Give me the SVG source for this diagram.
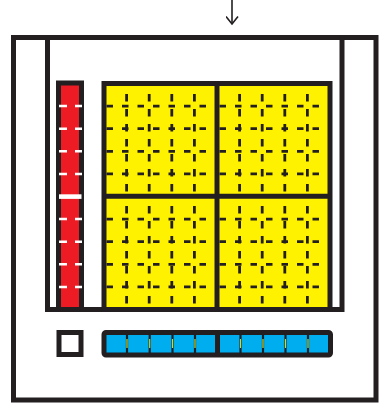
<svg xmlns="http://www.w3.org/2000/svg" width="383" height="403" viewBox="0 0 383 403">
<style>
.frame{fill:none;stroke:#231F20;stroke-width:5}
.red{fill:#ED1C24;stroke:#231F20;stroke-width:5}
.yel{fill:#FFF200;stroke:#231F20;stroke-width:5}
.cyan{fill:#00AEEF;stroke:#231F20;stroke-width:5}
.wbox{fill:#FFFFFF;stroke:#231F20;stroke-width:5}
.wd{stroke:#FFFFFF;stroke-width:2.5;stroke-dasharray:8 8;fill:none}
.hd{stroke:#231F20;stroke-width:2.8;stroke-dasharray:6.5 9;fill:none}
.vd{stroke:#231F20;stroke-width:2.8;stroke-dasharray:7.5 7.5;fill:none}
.sep{stroke:#231F20;stroke-width:2.2}
.hl{stroke:#C8DC32;stroke-width:1.2}
.conn{stroke:#231F20;stroke-width:1.6;fill:none}
</style>
<defs>
<marker id="arr" viewBox="0 0 10 13" refX="8.5" refY="6.5" markerWidth="10" markerHeight="13" markerUnits="userSpaceOnUse" orient="auto">
<path d="M1 0.5 L8.5 6.5 L1 12.5" fill="none" stroke="#231F20" stroke-width="1.6"/>
</marker>
</defs>
<rect width="383" height="403" fill="#FFFFFF"/>
<g id="outer-frame">
<rect class="frame" x="13.5" y="37.5" width="362.5" height="362.5"/>
<path class="frame" d="M47.5 37.5 V309.5 H342 V37.5"/>
</g>
<g id="red-bar">
<rect class="red" x="58.5" y="83" width="23" height="226.5"/>
<path class="wd" d="M59 106 H82 M59 128.7 H82 M59 151.3 H82 M59 173.9 H82 M59 219.1 H82 M59 241.7 H82 M59 264.3 H82 M59 286.9 H82"/>
<path d="M59 196.6 H81.5" stroke="#FFFFFF" stroke-width="4.6"/>
</g>
<g id="yellow-block">
<rect class="yel" x="104" y="83.5" width="226" height="226"/>
<path class="hd" d="M106.5 106.1 H214.5 M106.5 128.7 H214.5 M106.5 151.3 H214.5 M106.5 173.9 H214.5 M219.5 106.1 H327.5 M219.5 128.7 H327.5 M219.5 151.3 H327.5 M219.5 173.9 H327.5 M106.5 219.1 H214.5 M106.5 241.7 H214.5 M106.5 264.3 H214.5 M106.5 286.9 H214.5 M219.5 219.1 H327.5 M219.5 241.7 H327.5 M219.5 264.3 H327.5 M219.5 286.9 H327.5"/>
<path class="vd" d="M126.6 94 V194 M149.2 94 V194 M171.8 94 V194 M194.4 94 V194 M239.6 94 V194 M262.2 94 V194 M284.8 94 V194 M307.4 94 V194 M126.6 206 V307 M149.2 206 V307 M171.8 206 V307 M194.4 206 V307 M239.6 206 V307 M262.2 206 V307 M284.8 206 V307 M307.4 206 V307"/>
<path d="M217 83.5 V309.5 M104 196.3 H330" stroke="#231F20" stroke-width="5"/>
</g>
<g id="white-square">
<rect class="wbox" x="59" y="332.5" width="22" height="22"/>
</g>
<g id="cyan-bar">
<rect class="cyan" x="104" y="332.5" width="226.5" height="22.5" rx="2"/>
<path class="sep" d="M127 333 V355 M149.7 333 V355 M172.5 333 V355 M195 333 V355 M240.5 333 V355 M263 333 V355 M285.5 333 V355 M308 333 V355"/>
<path class="hl" d="M127 339 V348 M149.7 339 V348 M172.5 339 V348 M195 339 V348 M240.5 339 V348 M263 339 V348 M285.5 339 V348 M308 339 V348"/>
<path d="M217.5 333 V355" stroke="#231F20" stroke-width="5"/>
</g>
<g id="connectors">
<path class="conn" d="M232 0 V24" marker-end="url(#arr)"/>
</g>
</svg>
